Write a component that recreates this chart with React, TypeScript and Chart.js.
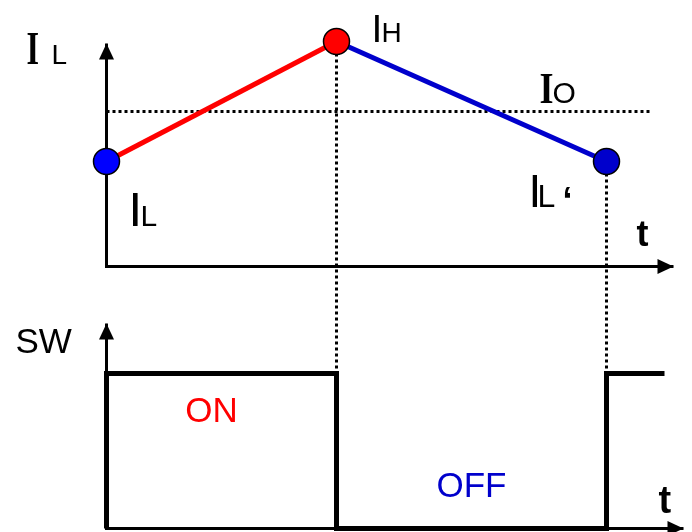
import React, { useEffect, useRef } from "react";
import { Chart, registerables } from "chart.js";

Chart.register(...registerables);

// ---- Data (time in arbitrary units, current in arbitrary units) ----
const rampTimes = [0, 4.6, 10]; // turn-on, turn-off, next turn-on
const rampCurrents = [2.1, 4.5, 2.1]; // IL, IH, IL'
const pointColors = ["#0000ff", "#ff0000", "#0000cc"];
const ioLevel = 3.1;
const ioEnd = 10.88;
const currentAxisTop = 4.46;
const timeAxisEnd = 11.34;

const swTimes = [0, 0, 4.6, 10, 11.16];
const swStates = [0, 1, 0, 1, 1];
const swHigh = 1;
const swAxisTop = 1.323;
const swTimeAxisEnd = 11.54;

const SANS = "'Liberation Sans', Arial, sans-serif";
const SERIF = "'Liberation Serif', 'Times New Roman', serif";

function arrowHead(ctx: CanvasRenderingContext2D, x: number, y: number, dir: "up" | "right") {
  const len = 16;
  const hw = 7.5;
  ctx.beginPath();
  if (dir === "up") {
    ctx.moveTo(x, y);
    ctx.lineTo(x - hw, y + len);
    ctx.lineTo(x + hw, y + len);
  } else {
    ctx.moveTo(x, y);
    ctx.lineTo(x - len, y - hw);
    ctx.lineTo(x - len, y + hw);
  }
  ctx.closePath();
  ctx.fillStyle = "#000";
  ctx.fill();
}

function txt(
  ctx: CanvasRenderingContext2D,
  s: string,
  x: number,
  y: number,
  font: string,
  color = "#000",
  scaleX = 1,
  align: CanvasTextAlign = "left"
) {
  ctx.save();
  ctx.font = font;
  ctx.fillStyle = color;
  ctx.textAlign = align;
  ctx.textBaseline = "alphabetic";
  ctx.translate(x, y);
  ctx.scale(scaleX, 1);
  ctx.fillText(s, 0, 0);
  ctx.restore();
}

const diagramPlugin = {
  id: "diagram",
  beforeDatasetsDraw(chart: any) {
    const { ctx, scales } = chart;
    const x = scales.x;
    const yI = scales.yI;
    const yS = scales.ySW;
    ctx.save();
    ctx.strokeStyle = "#000";
    ctx.lineWidth = 3;
    ctx.setLineDash([3, 3]);
    for (let i = 1; i < rampTimes.length; i++) {
      const px = x.getPixelForValue(rampTimes[i]);
      ctx.beginPath();
      ctx.moveTo(px, yI.getPixelForValue(rampCurrents[i]));
      ctx.lineTo(px, yS.getPixelForValue(swHigh));
      ctx.stroke();
    }
    ctx.restore();
  },
  afterDatasetsDraw(chart: any) {
    const { ctx, scales } = chart;
    const x = scales.x;
    const yI = scales.yI;
    const yS = scales.ySW;
    // arrow heads
    arrowHead(ctx, x.getPixelForValue(0), yI.getPixelForValue(currentAxisTop), "up");
    arrowHead(ctx, x.getPixelForValue(timeAxisEnd), yI.getPixelForValue(0), "right");
    arrowHead(ctx, x.getPixelForValue(0), yS.getPixelForValue(swAxisTop), "up");
    arrowHead(ctx, x.getPixelForValue(swTimeAxisEnd), yS.getPixelForValue(0), "right");

    // labels
    const ax = x.getPixelForValue(0);
    const aTop = yI.getPixelForValue(currentAxisTop);
    txt(ctx, "I", ax - 80, aTop + 20, `bold 46px ${SERIF}`, "#000", 0.7);
    txt(ctx, "L", ax - 55, aTop + 20, `28px ${SANS}`);

    const hx = x.getPixelForValue(rampTimes[1]);
    const hy = yI.getPixelForValue(rampCurrents[1]);
    txt(ctx, "I", hx + 35, hy, `39px ${SANS}`);
    txt(ctx, "H", hx + 45, hy, `28px ${SANS}`);

    const ox = x.getPixelForValue(ioEnd);
    const oy = yI.getPixelForValue(ioLevel);
    txt(ctx, "I", ox - 111, oy - 9, `bold 45px ${SERIF}`, "#000", 0.8);
    txt(ctx, "O", ox - 98, oy - 9, `30px ${SANS}`);

    const lx = x.getPixelForValue(rampTimes[0]);
    const ly = yI.getPixelForValue(rampCurrents[0]);
    txt(ctx, "I", lx + 22, ly + 64, `49px ${SANS}`);
    txt(ctx, "L", lx + 34, ly + 64, `30px ${SANS}`);

    const rx = x.getPixelForValue(rampTimes[2]);
    const ry = yI.getPixelForValue(rampCurrents[2]);
    txt(ctx, "I", rx - 78, ry + 45, `46px ${SANS}`);
    txt(ctx, "L", rx - 69, ry + 45, `32px ${SANS}`);
    txt(ctx, "\u2018", rx - 44, ry + 51, `bold 36px ${SANS}`);

    const tx = x.getPixelForValue(timeAxisEnd);
    const ty = yI.getPixelForValue(0);
    txt(ctx, "t", tx - 37, ty - 21, `bold 36px ${SANS}`);

    const sx = x.getPixelForValue(0);
    const sTop = yS.getPixelForValue(swAxisTop);
    txt(ctx, "SW", sx - 91, sTop + 30, `35px ${SANS}`);

    const onX = x.getPixelForValue((rampTimes[0] + rampTimes[1]) / 2);
    const hiY = yS.getPixelForValue(swHigh);
    txt(ctx, "ON", onX - 10, hiY + 49, `35px ${SANS}`, "#ff0000", 1, "center");

    const offX = x.getPixelForValue((rampTimes[1] + rampTimes[2]) / 2);
    const loY = yS.getPixelForValue(0);
    txt(ctx, "OFF", offX, loY - 31, `35px ${SANS}`, "#0000cc", 1, "center");

    const t2x = x.getPixelForValue(swTimeAxisEnd);
    txt(ctx, "t", t2x - 25, loY - 15, `bold 38px ${SANS}`);
  },
};

export default function App() {
  const ref = useRef<HTMLCanvasElement | null>(null);

  useEffect(() => {
    document.body.style.margin = "0";
    const canvas = ref.current;
    if (!canvas) return;

    const rampPoints = rampTimes.map((t, i) => ({ x: t, y: rampCurrents[i] }));
    const swPoints = swTimes.map((t, i) => ({ x: t, y: swStates[i] }));

    const chart = new Chart(canvas, {
      type: "line",
      data: {
        datasets: [
          {
            label: "points",
            data: rampPoints,
            yAxisID: "yI",
            showLine: false,
            pointRadius: 13,
            pointBackgroundColor: pointColors,
            pointBorderColor: "#000",
            pointBorderWidth: 1.5,
            clip: false,
            order: 0,
          },
          {
            label: "on ramp",
            data: rampPoints.slice(0, 2),
            yAxisID: "yI",
            borderColor: "#ff0000",
            borderWidth: 5,
            pointRadius: 0,
            clip: false,
            order: 1,
          },
          {
            label: "off ramp",
            data: rampPoints.slice(1, 3),
            yAxisID: "yI",
            borderColor: "#0000cc",
            borderWidth: 5,
            pointRadius: 0,
            clip: false,
            order: 1,
          },
          {
            label: "sw",
            data: swPoints,
            yAxisID: "ySW",
            stepped: "before",
            borderColor: "#000",
            borderWidth: 5,
            borderJoinStyle: "miter",
            borderCapStyle: "butt",
            pointRadius: 0,
            clip: false,
            order: 2,
          },
          {
            label: "current axes",
            data: [
              { x: 0, y: currentAxisTop },
              { x: 0, y: 0 },
              { x: timeAxisEnd, y: 0 },
            ],
            yAxisID: "yI",
            borderColor: "#000",
            borderWidth: 3,
            borderJoinStyle: "miter",
            pointRadius: 0,
            clip: false,
            order: 3,
          },
          {
            label: "sw axes",
            data: [
              { x: 0, y: swAxisTop },
              { x: 0, y: 0 },
              { x: swTimeAxisEnd, y: 0 },
            ],
            yAxisID: "ySW",
            borderColor: "#000",
            borderWidth: 3,
            borderJoinStyle: "miter",
            pointRadius: 0,
            clip: false,
            order: 3,
          },
          {
            label: "Io",
            data: [
              { x: 0, y: ioLevel },
              { x: ioEnd, y: ioLevel },
            ],
            yAxisID: "yI",
            borderColor: "#000",
            borderWidth: 3,
            borderDash: [3, 3],
            pointRadius: 0,
            clip: false,
            order: 4,
          },
        ],
      },
      options: {
        animation: false,
        responsive: false,
        layout: { padding: 0, autoPadding: false },
        plugins: { legend: { display: false }, tooltip: { enabled: false } },
        events: [],
        scales: {
          x: { type: "linear", min: -2.13, max: 11.71, display: false },
          yI: { type: "linear", min: -5.31, max: 5.33, display: false },
          ySW: { type: "linear", min: -0.0226, max: 3.4097, display: false },
        },
        elements: { line: { tension: 0 } },
      } as any,
      plugins: [diagramPlugin],
    });

    return () => chart.destroy();
  }, []);

  return (
    <div style={{ width: 692, height: 532, background: "#fff" }}>
      <canvas ref={ref} width={692} height={532} style={{ display: "block" }} />
    </div>
  );
}
